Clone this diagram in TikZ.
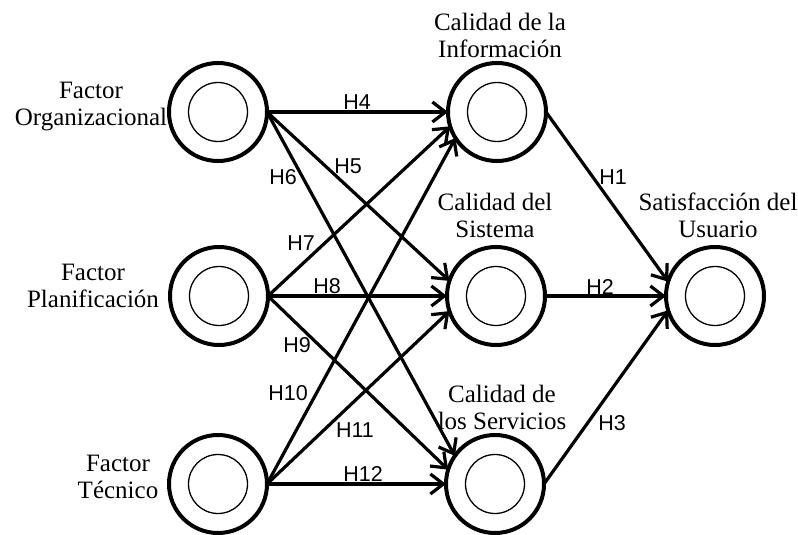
\documentclass[tikz,border=0pt]{standalone}
\usepackage{fontspec}
\setmainfont{Liberation Serif}
\newfontfamily\hfont{Liberation Sans}
\usetikzlibrary{arrows.meta}
\begin{document}
\begin{tikzpicture}[x=1pt,y=-1pt,
 outerc/.style={circle,draw,line width=4pt,minimum size=98pt,inner sep=0pt,outer sep=0pt},
 innerc/.style={circle,draw,line width=1.3pt,minimum size=59pt,inner sep=0pt},
 conn/.style={line width=3.2pt,-{Straight Barb[length=13pt,width=20pt]}},
 hlab/.style={font=\hfont\fontsize{21.5}{24}\selectfont,inner sep=0pt},
 tlab/.style={font=\fontsize{25}{27}\selectfont,align=center,inner sep=0pt}]
\useasboundingbox (0,0) rectangle (798,535);
% nodes
\node[outerc] (l1) at (218,112) {};
\node[outerc] (l2) at (219,296) {};
\node[outerc] (l3) at (218,484) {};
\node[outerc] (m1) at (497,112) {};
\node[outerc] (m2) at (496,296) {};
\node[outerc] (m3) at (495,484) {};
\node[outerc] (r) at (715,296) {};
\node[innerc] (l1i) at (l1) {};
\node[innerc] (l2i) at (l2) {};
\node[innerc] (l3i) at (l3) {};
\node[innerc] (m1i) at (m1) {};
\node[innerc] (m2i) at (m2) {};
\node[innerc] (m3i) at (m3) {};
\node[innerc] (ri) at (r) {};
% titles
\node[tlab] (t1) at (91,107) {Factor\\Organizacional};
\node[tlab] (t2) at (93,285.5) {Factor\\Planificación};
\node[tlab] (t3) at (118,476.5) {Factor\\Técnico};
\node[tlab] (t4) at (500,35) {Calidad de la\\Información};
\node[tlab] (t5) at (495,215) {Calidad del\\Sistema};
\node[tlab] (t6) at (502,407.5) {Calidad de\\los Servicios};
\node[tlab] (t7) at (718,215) {Satisfacción del\\Usuario};
% connectors
\draw[conn] (l1.east) -- (m1.180);
\draw[conn] (l1.east) -- (m2.162);
\draw[conn] (l1.east) -- (m3.145);
\draw[conn] (l2.east) -- (m1.197);
\draw[conn] (l2.east) -- (m2.180);
\draw[conn] (l2.east) -- (m3.163);
\draw[conn] (l3.east) -- (m1.212);
\draw[conn] (l3.east) -- (m2.198);
\draw[conn] (l3.east) -- (m3.180);
\draw[conn] (m1.east) -- (r.163);
\draw[conn] (m2.east) -- (r.180);
\draw[conn] (m3.east) -- (r.197);
% labels
\node[hlab] (h4) at (357,102) {H4};
\node[hlab] (h5) at (348,166) {H5};
\node[hlab] (h6) at (283,177) {H6};
\node[hlab] (h7) at (301,243) {H7};
\node[hlab] (h8) at (327,286) {H8};
\node[hlab] (h9) at (297,345) {H9};
\node[hlab] (h10) at (288,393) {H10};
\node[hlab] (h11) at (355,430) {H11};
\node[hlab] (h12) at (363,474) {H12};
\node[hlab] (h1) at (613,177) {H1};
\node[hlab] (h2) at (600,287) {H2};
\node[hlab] (h3) at (612,423) {H3};
\end{tikzpicture}
\end{document}
